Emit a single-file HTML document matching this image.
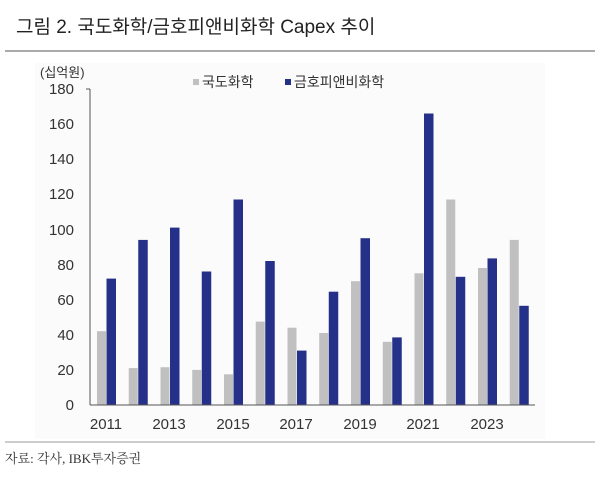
<!DOCTYPE html>
<html><head><meta charset="utf-8"><style>
body{margin:0;background:#fff;width:600px;height:474px;overflow:hidden;font-family:"Liberation Sans","Noto Sans CJK KR",sans-serif;}
</style></head><body>
<svg width="600" height="474" xmlns="http://www.w3.org/2000/svg" font-family="Liberation Sans, Noto Sans CJK KR, sans-serif">
<rect x="0" y="0" width="600" height="474" fill="#fff"/>
<rect x="35" y="63" width="510" height="376" fill="#fbfbfb"/>
<text x="16" y="33" font-size="19" fill="#222">그림 2. 국도화학/금호피앤비화학 Capex 추이</text>
<line x1="5" y1="51" x2="595" y2="51" stroke="#555" stroke-width="1"/>
<text x="40" y="77" font-size="13" fill="#333">(십억원)</text>
<rect x="193" y="79" width="6" height="6" fill="#c0c0c0"/>
<text x="202" y="87" font-size="14" fill="#333">국도화학</text>
<rect x="285" y="79" width="6" height="6" fill="#253188"/>
<text x="294" y="87" font-size="14" fill="#333">금호피앤비화학</text>
<g font-size="15" fill="#333" text-anchor="end">
<text x="74" y="410">0</text><text x="74" y="375">20</text><text x="74" y="340">40</text><text x="74" y="305">60</text><text x="74" y="270">80</text><text x="74" y="235">100</text><text x="74" y="199">120</text><text x="74" y="164">140</text><text x="74" y="129">160</text><text x="74" y="94">180</text>
</g>
<g fill="#c0c0c0">
<rect x="97" y="331.2" width="9" height="73.8"/>
<rect x="128.75" y="368.1" width="9" height="36.9"/>
<rect x="160.5" y="367.2" width="9" height="37.8"/>
<rect x="192.25" y="369.9" width="9" height="35.1"/>
<rect x="224" y="374.3" width="9" height="30.7"/>
<rect x="255.75" y="321.6" width="9" height="83.4"/>
<rect x="287.5" y="327.7" width="9" height="77.3"/>
<rect x="319.25" y="333" width="9" height="72"/>
<rect x="351" y="281.2" width="9" height="123.8"/>
<rect x="382.75" y="341.8" width="9" height="63.2"/>
<rect x="414.5" y="273.3" width="9" height="131.7"/>
<rect x="446.25" y="199.5" width="9" height="205.5"/>
<rect x="478" y="268" width="9" height="137"/>
<rect x="509.75" y="239.9" width="9" height="165.1"/>
</g>
<g fill="#253188">
<rect x="106.5" y="278.6" width="9.5" height="126.4"/>
<rect x="138.25" y="239.9" width="9.5" height="165.1"/>
<rect x="170" y="227.6" width="9.5" height="177.4"/>
<rect x="201.75" y="271.5" width="9.5" height="133.5"/>
<rect x="233.5" y="199.5" width="9.5" height="205.5"/>
<rect x="265.25" y="261" width="9.5" height="144"/>
<rect x="297" y="350.6" width="9.5" height="54.4"/>
<rect x="328.75" y="291.7" width="9.5" height="113.3"/>
<rect x="360.5" y="238.2" width="9.5" height="166.8"/>
<rect x="392.25" y="337.4" width="9.5" height="67.6"/>
<rect x="424" y="113.5" width="9.5" height="291.5"/>
<rect x="455.75" y="276.8" width="9.5" height="128.2"/>
<rect x="487.5" y="258.4" width="9.5" height="146.6"/>
<rect x="519.25" y="305.8" width="9.5" height="99.2"/>
</g>
<line x1="90" y1="89" x2="90" y2="405" stroke="#555"/>
<line x1="90" y1="405" x2="535" y2="405" stroke="#555"/>
<line x1="86" y1="89" x2="90" y2="89" stroke="#555"/>
<g font-size="15" fill="#333" text-anchor="middle">
<text x="106" y="429">2011</text><text x="169" y="429">2013</text><text x="233" y="429">2015</text><text x="296" y="429">2017</text><text x="360" y="429">2019</text><text x="423" y="429">2021</text><text x="487" y="429">2023</text>
</g>
<line x1="5" y1="442" x2="595" y2="442" stroke="#999"/>
<text x="5" y="463" font-size="13" fill="#333" font-family="Liberation Serif, Noto Serif CJK SC, serif">자료: 각사, IBK투자증권</text>
</svg>
</body></html>
